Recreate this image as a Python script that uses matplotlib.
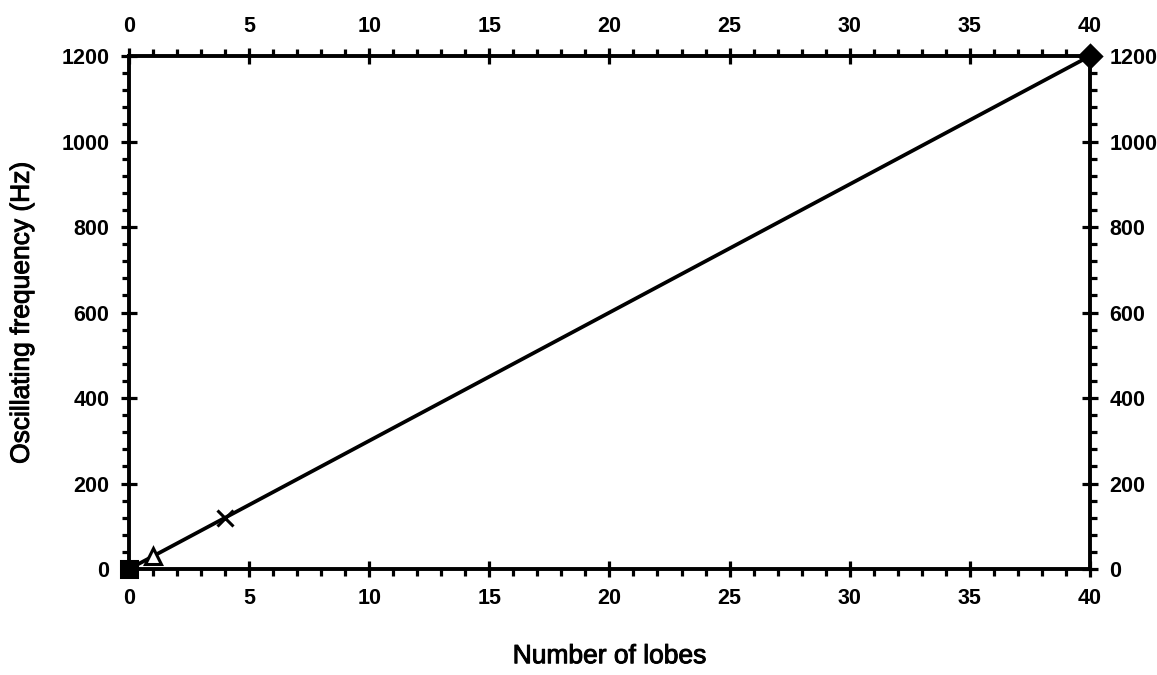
import matplotlib
matplotlib.use("Agg")
import matplotlib.pyplot as plt
import matplotlib.patheffects as pe
from matplotlib.ticker import MultipleLocator

plt.rcParams['font.family'] = ['Liberation Sans', 'DejaVu Sans']

# Measured modes: number of lobes vs oscillating frequency
lobes = [0, 1, 4, 40]
freq_hz = [0, 30, 120, 1200]
markers = ['s', '^', 'x', 'D']
filled = [True, False, False, True]

fig = plt.figure(figsize=(11.57, 6.75), dpi=100)
ax = fig.add_axes([0.1115, 0.157, 0.8305, 0.760])

ax.plot(lobes, freq_hz, color='black', lw=2.7, zorder=3)
for x, y, m, f in zip(lobes, freq_hz, markers, filled):
    ax.plot([x], [y], marker=m, ms=11 if m != 'x' else 12,
            mfc='black' if f else 'white', mec='black', mew=2.2,
            ls='none', zorder=4, clip_on=False)

ax.set_xlim(0, 40)
ax.set_ylim(0, 1200)
ax.xaxis.set_major_locator(MultipleLocator(5))
ax.xaxis.set_minor_locator(MultipleLocator(1))
ax.yaxis.set_major_locator(MultipleLocator(200))
ax.yaxis.set_minor_locator(MultipleLocator(40))

for s in ax.spines.values():
    s.set_linewidth(2.8)

ax.tick_params(which='both', top=True, right=True, labeltop=True,
               labelright=True, width=2.3, color='black')
ax.tick_params(which='major', direction='inout', length=12, pad=8,
               labelsize=15.5)
ax.tick_params(which='minor', direction='out', length=5)
for lab in ax.get_xticklabels() + ax.get_yticklabels():
    lab.set_fontweight('bold')

thick = [pe.withStroke(linewidth=0.7, foreground='black')]
ax.set_xlabel('Number of lobes', fontsize=19, labelpad=25,
              path_effects=thick)
ax.set_ylabel('Oscillating frequency (Hz)', fontsize=19, labelpad=20,
              path_effects=thick)

fig.savefig('out.png', dpi=100)
